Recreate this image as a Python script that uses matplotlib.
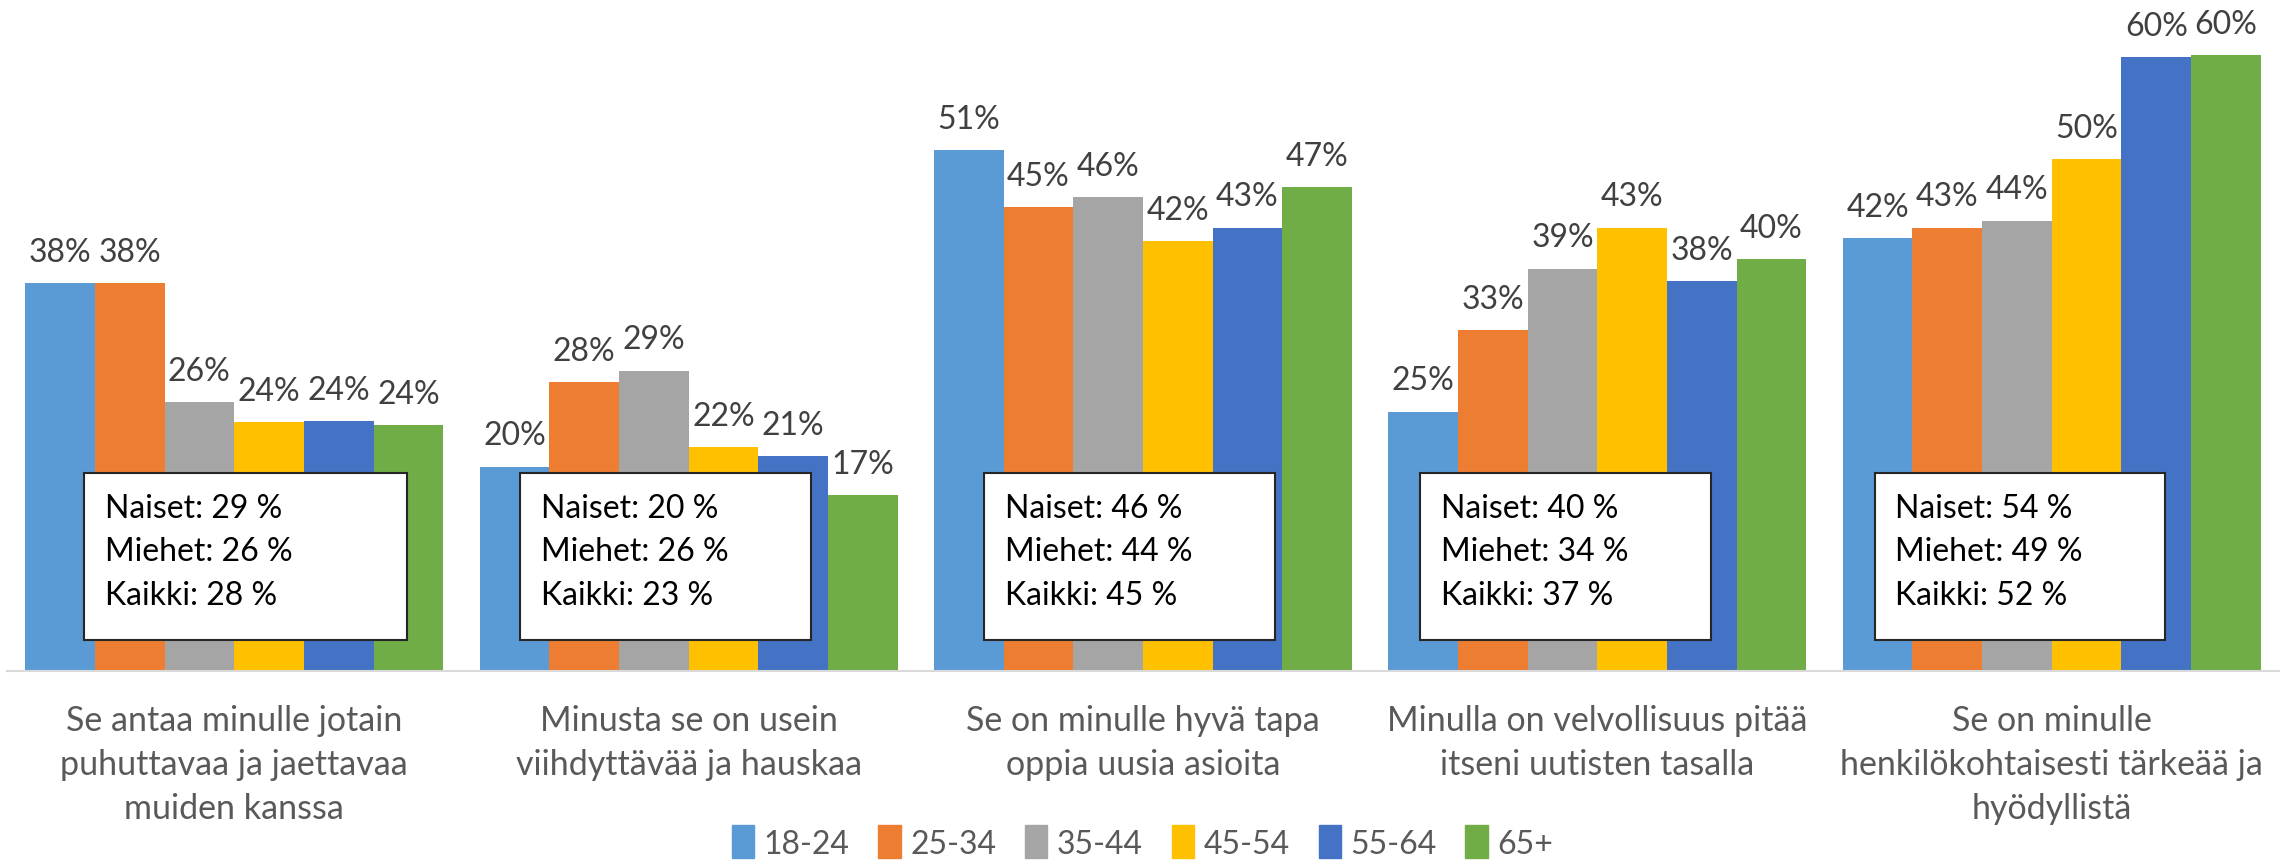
import numpy as np
import matplotlib.pyplot as plt
from matplotlib.patches import Rectangle, Patch

plt.rcParams['font.family'] = ['Lato', 'DejaVu Sans']

# Data (percent)
categories = [
    "Se antaa minulle jotain\npuhuttavaa ja jaettavaa\nmuiden kanssa",
    "Minusta se on usein\nviihdyttävää ja hauskaa",
    "Se on minulle hyvä tapa\noppia uusia asioita",
    "Minulla on velvollisuus pitää\nitseni uutisten tasalla",
    "Se on minulle\nhenkilökohtaisesti tärkeää ja\nhyödyllistä",
]
age_groups = ["18-24", "25-34", "35-44", "45-54", "55-64", "65+"]
s_18_24 = [38.0, 20.0, 51.0, 25.4, 42.4]
s_25_34 = [38.0, 28.3, 45.4, 33.4, 43.4]
s_35_44 = [26.3, 29.4, 46.4, 39.4, 44.1]
s_45_54 = [24.4, 21.9, 42.1, 43.4, 50.1]
s_55_64 = [24.5, 21.0, 43.4, 38.2, 60.1]
s_65 = [24.1, 17.2, 47.4, 40.3, 60.3]
naiset = [29, 20, 46, 40, 54]
miehet = [26, 26, 44, 34, 49]
kaikki = [28, 23, 45, 37, 52]

series = [s_18_24, s_25_34, s_35_44, s_45_54, s_55_64, s_65]
colors = ['#5B9BD5', '#ED7D31', '#A5A5A5', '#FFC000', '#4472C4', '#70AD47']

fig = plt.figure(figsize=(22.85, 8.62), dpi=100)
ax = fig.add_axes([7 / 2285, 190 / 862, 2272 / 2285, 664 / 862])
ax.set_xlim(-0.5, 4.5)
ax.set_ylim(0, 65)

x = np.arange(len(categories))
w = 0.1533
for j, (vals, c) in enumerate(zip(series, colors)):
    xs = x + (j - 2.5) * w
    ax.bar(xs, vals, width=w, color=c, linewidth=0, zorder=2)
    for xi, v in zip(xs, vals):
        ax.annotate(f"{v:.0f}%", (xi, v), xytext=(0, 16), textcoords='offset points',
                    ha='center', va='baseline', fontsize=23, color='#404040')

# summary boxes
box_dx = [-0.33, -0.37, -0.35, -0.39, -0.39]
box_w = [0.71, 0.64, 0.64, 0.64, 0.64]
for i in range(len(categories)):
    left = i + box_dx[i]
    ax.add_patch(Rectangle((left, 3.0), box_w[i], 16.4, facecolor='white',
                           edgecolor='#262626', linewidth=1.5, zorder=3))
    lines = [f"Naiset: {naiset[i]} %", f"Miehet: {miehet[i]} %", f"Kaikki: {kaikki[i]} %"]
    for line, yy in zip(lines, [16.0, 11.7, 7.4]):
        ax.text(left + 0.046, yy, line, va='center', ha='left', fontsize=23,
                color='black', zorder=4)

ax.set_xticks(x)
ax.set_xticklabels(categories, fontsize=24.5, color='#595959', linespacing=1.45)
ax.tick_params(axis='x', length=0, pad=24)
ax.set_yticks([])
for s in ['top', 'left', 'right']:
    ax.spines[s].set_visible(False)
ax.spines['bottom'].set_color('#D9D9D9')
ax.spines['bottom'].set_linewidth(1.5)

handles = [Patch(facecolor=c, edgecolor=c) for c in colors]
fig.legend(handles, age_groups, loc='center', bbox_to_anchor=(0.5, 19 / 862), ncol=6,
           frameon=False, fontsize=23, labelcolor='#595959', handlelength=0.7,
           handleheight=1.2, handletextpad=0.3, columnspacing=0.9)

fig.savefig('out.png', dpi=100)
